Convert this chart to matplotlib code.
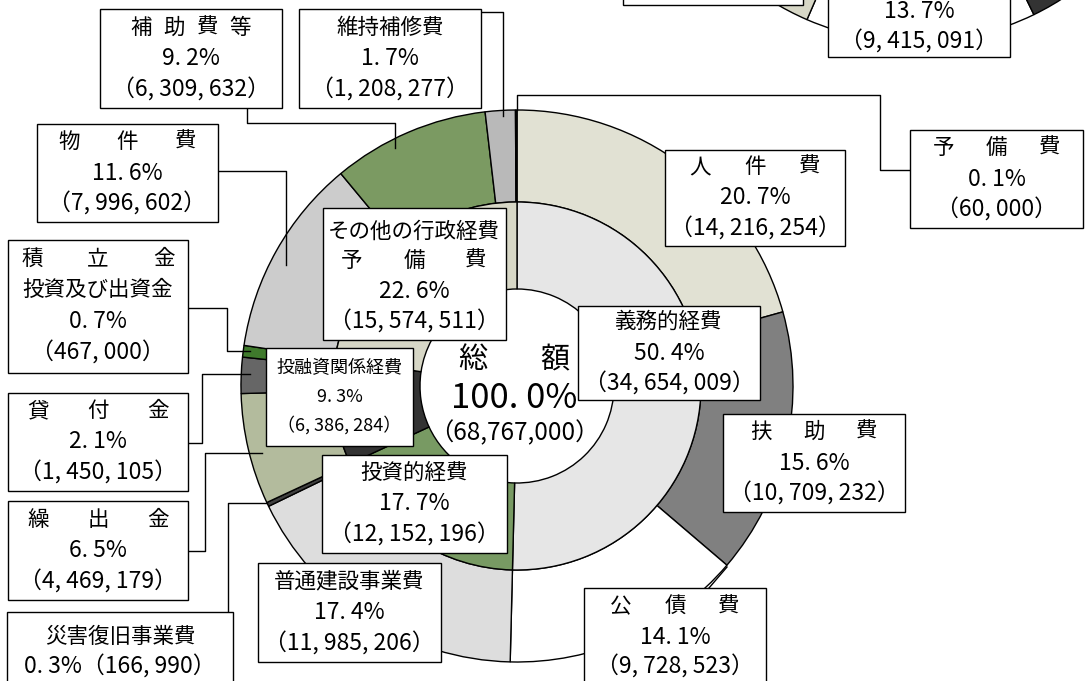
import matplotlib
matplotlib.use('Agg')
import matplotlib.pyplot as plt
from matplotlib.patches import Rectangle

plt.rcParams['font.family'] = ['Noto Sans CJK JP', 'DejaVu Sans']

# 内側: 経費区分 (千円)
inner_labels = ['義務的経費', '投資的経費', '投融資関係経費', 'その他の行政経費']
inner_values = [34654009, 12152196, 6386284, 15574511]
inner_pcts = ['50. 4%', '17. 7%', '9. 3%', '22. 6%']
inner_colors = ['#e6e6e6', '#789a63', '#333333', '#d7d7c6']

# 外側: 性質別内訳
outer_labels = ['人件費', '扶助費', '公債費', '普通建設事業費', '災害復旧事業費',
                '繰出金', '貸付金', '積立金', '物件費', '補助費等', '維持補修費', '予備費']
outer_values = [14216254, 10709232, 9728523, 11985206, 166990,
                4469179, 1450105, 467000, 7996602, 6309632, 1208277, 60000]
outer_pcts = ['20. 7%', '15. 6%', '14. 1%', '17. 4%', '0. 3%',
              '6. 5%', '2. 1%', '0. 7%', '11. 6%', '9. 2%', '1. 7%', '0. 1%']
outer_colors = ['#e1e1d3', '#808080', '#ffffff', '#dddddd', '#404040',
                '#b3bb9d', '#666666', '#3f7a2c', '#cccccc', '#7b9a62', '#b9b9b9', '#1a1a1a']

total_label = '総額'
total_value = 68767000
total_pct = '100. 0%'

# 上に切れている別グラフの一部
frag_values = [13.7, 10.0, 76.3]
frag_colors = ['#ffffff', '#333333', '#d7d7c6']
frag_pct = '13. 7%'
frag_value_text = '（9, 415, 091）'

NAME_FS = 15.5
NUM_FS = 16.5

# ラベル配置: (x0, y0, x1, y1), 文字間隔, 行間
boxes = {
    '補助費等': ((100, 9, 282, 108), 33, 31),
    '維持補修費': ((299, 9, 481, 108), None, 31),
    '予備費': ((910, 130, 1083, 228), 53, 31),
    '人件費': ((665, 150, 845, 246), 55, 31),
    '物件費': ((37, 124, 218, 222), 58, 31),
    '貸付金': ((8, 393, 188, 491), 60, 31),
    '繰出金': ((8, 501, 188, 600), 60, 31),
    '普通建設事業費': ((258, 563, 441, 662), None, 31),
    '扶助費': ((723, 414, 905, 512), 53, 31),
    '義務的経費': ((578, 306, 760, 400), None, 31),
    '投融資関係経費': ((266, 348, 413, 446), None, 28.5),
    '投資的経費': ((322, 455, 507, 553), None, 31),
}

leaders = {
    '補助費等': [(247, 108), (247, 123), (395, 123), (395, 148)],
    '維持補修費': [(481, 12), (503, 12), (503, 116)],
    '予備費': [(517, 110), (517, 95), (880, 95), (880, 170), (910, 170)],
    '物件費': [(218, 171), (286, 171), (286, 265)],
    '積立金': [(188, 308), (227, 308), (227, 351), (250, 351)],
    '貸付金': [(188, 443), (202, 443), (202, 374), (250, 374)],
    '繰出金': [(188, 551), (205, 551), (205, 453), (262, 453)],
    '災害復旧事業費': [(228, 612), (228, 503), (267, 503)],
    '公債費': [(709, 588), (727, 567)],
}


def fmt(v):
    return '（' + f'{v:,}'.replace(',', ', ') + '）'


def txt(ax, x, y, s, size):
    ax.text(x, y, s, ha='center', va='center', fontsize=size, zorder=5)


def spaced(ax, x, y, s, pitch, size):
    n = len(s)
    for i, ch in enumerate(s):
        txt(ax, x + (i - (n - 1) / 2) * pitch, y, ch, size)


def rect(ax, x0, y0, x1, y1):
    ax.add_patch(Rectangle((x0, y0), x1 - x0, y1 - y0, fc='white', ec='black',
                           lw=1, zorder=4))


def draw_box(ax, name, lines, name_fs=NAME_FS, num_fs=NUM_FS):
    (x0, y0, x1, y1), pitch, step = boxes[name]
    rect(ax, x0, y0, x1, y1)
    xc = (x0 + x1) / 2
    yc = (y0 + y1) / 2
    for i, ln in enumerate(lines):
        y = yc + (i - (len(lines) - 1) / 2) * step
        if i == 0:
            if pitch:
                spaced(ax, xc, y, ln, pitch, name_fs)
            else:
                txt(ax, xc, y, ln, name_fs)
        else:
            txt(ax, xc, y, ln, num_fs)


fig = plt.figure(figsize=(10.85, 6.81), dpi=100)
ax = fig.add_axes([0, 0, 1, 1])

cx, cy = 517, 386
r_out, r_mid, r_in = 276, 184, 97

ax.pie(outer_values, colors=outer_colors, radius=r_out, center=(cx, cy),
       startangle=-90, counterclock=True,
       wedgeprops=dict(width=r_out - r_mid, edgecolor='black', linewidth=1))
ax.pie(inner_values, colors=inner_colors, radius=r_mid, center=(cx, cy),
       startangle=-90, counterclock=True,
       wedgeprops=dict(width=r_mid - r_in, edgecolor='black', linewidth=1))
ax.pie(frag_values, colors=frag_colors, radius=272, center=(915, -230),
       startangle=113.4, counterclock=False,
       wedgeprops=dict(edgecolor='black', linewidth=1))

for name, pts in leaders.items():
    xs, ys = zip(*pts)
    ax.plot(xs, ys, color='black', lw=1, zorder=3)

# 外側ラベル
for name, v, p in zip(outer_labels, outer_values, outer_pcts):
    if name == '積立金':
        rect(ax, 8, 240, 188, 373)
        spaced(ax, 98, 259, name, 66, NAME_FS)
        txt(ax, 98, 290, '投資及び出資金', NAME_FS)
        txt(ax, 98, 322, p, NUM_FS)
        txt(ax, 98, 353, fmt(v), NUM_FS)
    elif name == '災害復旧事業費':
        rect(ax, 7, 612, 233, 702)
        txt(ax, 120, 637, name, NAME_FS)
        txt(ax, 120, 667, p + fmt(v), NUM_FS)
    elif name == '公債費':
        rect(ax, 584, 588, 766, 720)
        spaced(ax, 675, 607, name, 54, NAME_FS)
        txt(ax, 675, 637, p, NUM_FS)
        txt(ax, 675, 667, fmt(v), NUM_FS)
    else:
        draw_box(ax, name, [name, p, fmt(v)])

# 内側ラベル
for name, v, p in zip(inner_labels, inner_values, inner_pcts):
    if name == 'その他の行政経費':
        rect(ax, 323, 208, 506, 340)
        txt(ax, 414, 232, name, NAME_FS)
        spaced(ax, 414, 261, '予備費', 62, NAME_FS)
        txt(ax, 414, 292, p, NUM_FS)
        txt(ax, 414, 322, fmt(v), NUM_FS)
    elif name == '投融資関係経費':
        draw_box(ax, name, [name, p, fmt(v)], name_fs=13, num_fs=13)
    else:
        draw_box(ax, name, [name, p, fmt(v)])

# 中央: 総額
spaced(ax, 514, 360, total_label, 82, 21)
txt(ax, 514, 398, total_pct, 25)
txt(ax, 514, 433, '（' + f'{total_value:,}' + '）', 17.5)

# 上に切れている別グラフのラベル
rect(ax, 623, -30, 803, 5)
rect(ax, 828, -30, 1010, 57)
txt(ax, 919, 11, frag_pct, NUM_FS)
txt(ax, 919, 42, frag_value_text, NUM_FS)

ax.set_xlim(0, 1085)
ax.set_ylim(681, 0)
ax.set_aspect('equal')
ax.axis('off')

fig.savefig('out.png', dpi=100)
